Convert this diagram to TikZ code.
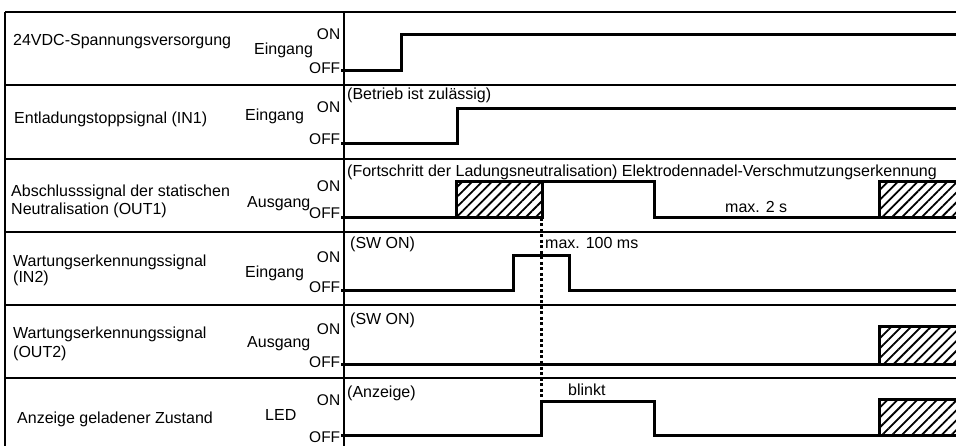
\documentclass[tikz,border=0pt]{standalone}
\usepackage{fontspec}
\setmainfont{Liberation Sans}
\usetikzlibrary{patterns.meta}
\begin{document}
\begin{tikzpicture}[x=1pt,y=-1pt,
  lbl/.style={anchor=base west,inner sep=0pt,font=\fontsize{16}{18}\selectfont},
  onoff/.style={anchor=base east,inner sep=0.6pt,fill=white,font=\fontsize{15.5}{17}\selectfont},
  gridline/.style={line width=1.5pt},
  sig/.style={line width=3pt,line join=miter},
  hatch/.style={pattern={Lines[angle=45,distance=7pt,line width=1.8pt]}},
  dots/.style={line width=3pt,dash pattern=on 3pt off 2.5pt}
]
\useasboundingbox (0,0) rectangle (956,446);
% grid
\draw[gridline] (5,12) -- (956,12);
\foreach \yy in {85,159,232,305,378} \draw[gridline] (5,\yy) -- (956,\yy);
\draw[line width=2pt] (5,12) -- (5,446);
\draw[line width=2pt] (344,12) -- (344,446);
% labels
\node[lbl] (l1) at (13,45.5) {24VDC-Spannungsversorgung};
\node[lbl] (t1) at (254,55) {Eingang};
\node[lbl] (l2) at (14,124) {Entladungstoppsignal (IN1)};
\node[lbl] (t2) at (245,121) {Eingang};
\node[lbl] (l3a) at (11,197) {Abschlusssignal der statischen};
\node[lbl] (l3b) at (11,215) {Neutralisation (OUT1)};
\node[lbl] (t3) at (247,208) {Ausgang};
\node[lbl] (l4a) at (13,267) {Wartungserkennungssignal};
\node[lbl] (l4b) at (13,283) {(IN2)};
\node[lbl] (t4) at (245,278) {Eingang};
\node[lbl] (l5a) at (13,338) {Wartungserkennungssignal};
\node[lbl] (l5b) at (13,357) {(OUT2)};
\node[lbl] (t5) at (247,348) {Ausgang};
\node[lbl] (l6) at (17,423) {Anzeige geladener Zustand};
\node[lbl] (t6) at (265,420) {LED};
% ON / OFF
\node[onoff] (on1) at (341,40) {ON};
\node[onoff] (off1) at (341,74) {OFF};
\node[onoff] (on2) at (341,113) {ON};
\node[onoff] (off2) at (341,145) {OFF};
\node[onoff] (on3) at (341,192) {ON};
\node[onoff] (off3) at (341,218.5) {OFF};
\node[onoff] (on4) at (341,263) {ON};
\node[onoff] (off4) at (341,293) {OFF};
\node[onoff] (on5) at (341,335) {ON};
\node[onoff] (off5) at (341,367) {OFF};
\node[onoff] (on6) at (341,405) {ON};
\node[onoff] (off6) at (341,442) {OFF};
% annotations
\node[lbl] (a2) at (347,100) {(Betrieb ist zulässig)};
\node[lbl] (a3) at (347,177) {(Fortschritt der Ladungsneutralisation) Elektrodennadel-Verschmutzungserkennung};
\node[lbl] (m2s) at (725,213) {max. 2 s};
\node[lbl] (a4) at (350,249) {(SW ON)};
\node[lbl] (m100) at (545,249) {max. 100 ms};
\node[lbl] (a5) at (350,325) {(SW ON)};
\node[lbl] (a6) at (347,397) {(Anzeige)};
\node[lbl] (bl) at (568,395) {blinkt};
% hatched areas
\fill[hatch] (456,182) rectangle (542,218);
\fill[hatch] (879,182) rectangle (956,218);
\fill[hatch] (879,327) rectangle (956,364);
\fill[hatch] (879,399) rectangle (956,435);
% signals
\draw[sig] (341,71) -- (401,71) -- (401,35) -- (956,35);
\draw[sig] (341,144) -- (457,144) -- (457,109) -- (956,109);
\draw[sig] (341,218) -- (542,218) -- (542,182);
\draw[sig] (456,218) -- (456,182) -- (654,182) -- (654,218) -- (956,218);
\draw[sig] (879,218) -- (879,182) -- (956,182);
\draw[sig] (341,291) -- (513,291) -- (513,256) -- (569,256) -- (569,291) -- (956,291);
\draw[sig] (341,364) -- (956,364);
\draw[sig] (879,364) -- (879,327) -- (956,327);
\draw[sig] (341,435) -- (541,435) -- (541,401) -- (654,401) -- (654,435) -- (956,435);
\draw[sig] (879,435) -- (879,399) -- (956,399);
% dotted marker
\draw[dots] (541,218) -- (541,401);
\end{tikzpicture}
\end{document}
